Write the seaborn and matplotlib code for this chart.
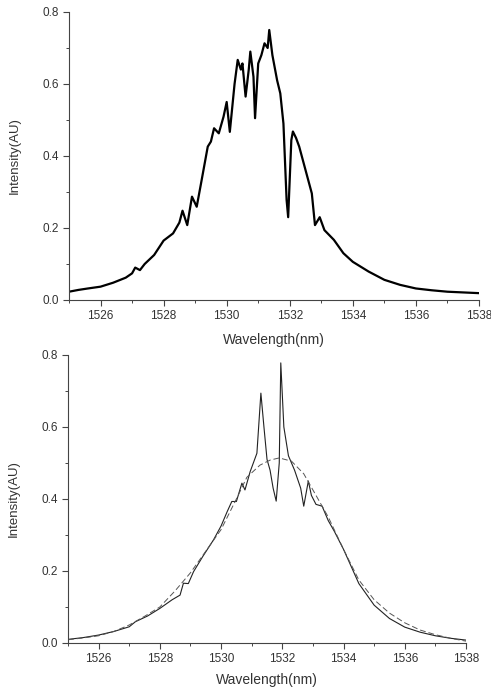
import numpy as np
import pandas as pd
import matplotlib
matplotlib.use('Agg')
import matplotlib.pyplot as plt
from matplotlib.ticker import MultipleLocator, FormatStrFormatter
import seaborn as sns

top_wl = [1525.0, 1525.3, 1525.6, 1526.0, 1526.4, 1526.8, 1527.0, 1527.1, 1527.25, 1527.4,
          1527.7, 1528.0, 1528.3, 1528.5, 1528.6, 1528.75, 1528.9, 1529.05, 1529.2, 1529.4,
          1529.5, 1529.6, 1529.75, 1529.9, 1530.0, 1530.1, 1530.25, 1530.35, 1530.45, 1530.5,
          1530.6, 1530.7, 1530.75, 1530.85, 1530.9, 1531.0, 1531.1, 1531.2, 1531.3, 1531.35,
          1531.45, 1531.6, 1531.7, 1531.8, 1531.9, 1531.95, 1532.05, 1532.1, 1532.2, 1532.3,
          1532.5, 1532.7, 1532.8, 1532.95, 1533.1, 1533.4, 1533.7, 1534.0, 1534.5, 1535.0,
          1535.5, 1536.0, 1536.5, 1537.0, 1537.5, 1538.0]
top_int = [0.023, 0.028, 0.032, 0.037, 0.048, 0.062, 0.074, 0.090, 0.083, 0.100,
           0.125, 0.165, 0.185, 0.215, 0.248, 0.208, 0.287, 0.259, 0.330, 0.426,
           0.440, 0.477, 0.463, 0.509, 0.550, 0.467, 0.600, 0.667, 0.640, 0.657,
           0.565, 0.640, 0.690, 0.620, 0.505, 0.657, 0.680, 0.713, 0.700, 0.750,
           0.680, 0.610, 0.574, 0.490, 0.278, 0.230, 0.444, 0.468, 0.450, 0.426,
           0.361, 0.296, 0.208, 0.230, 0.194, 0.167, 0.130, 0.106, 0.079, 0.056,
           0.042, 0.032, 0.027, 0.023, 0.021, 0.019]

# bottom panel: measured (solid) and fitted (dashed) spectra
bot_wl = [1525.0, 1525.5, 1526.0, 1526.5, 1527.0, 1527.2, 1527.6, 1528.0, 1528.4, 1528.66,
          1528.77, 1528.93, 1529.1, 1529.4, 1529.75, 1530.0, 1530.2, 1530.35, 1530.5, 1530.68,
          1530.78, 1530.95, 1531.17, 1531.3, 1531.4, 1531.5, 1531.6, 1531.7, 1531.8, 1531.9,
          1531.95, 1532.05, 1532.2, 1532.4, 1532.6, 1532.7, 1532.85, 1532.95, 1533.1, 1533.3,
          1533.5, 1533.7, 1534.0, 1534.5, 1535.0, 1535.5, 1536.0, 1536.5, 1537.0, 1537.5,
          1538.0]
bot_int = [0.010, 0.015, 0.022, 0.032, 0.045, 0.059, 0.075, 0.096, 0.120, 0.133,
           0.166, 0.165, 0.198, 0.240, 0.286, 0.325, 0.365, 0.393, 0.393, 0.444,
           0.425, 0.476, 0.527, 0.694, 0.600, 0.510, 0.480, 0.430, 0.394, 0.500,
           0.778, 0.600, 0.520, 0.480, 0.430, 0.380, 0.450, 0.410, 0.385, 0.380,
           0.340, 0.310, 0.260, 0.165, 0.105, 0.068, 0.044, 0.030, 0.020, 0.013,
           0.008]

fit_wl = [1525.0, 1525.5, 1526.0, 1526.5, 1527.0, 1527.5, 1528.0, 1528.5, 1529.0, 1529.5,
          1530.0, 1530.5, 1530.84, 1531.27, 1531.6, 1531.9, 1532.3, 1532.7, 1533.0, 1533.5,
          1534.0, 1534.5, 1535.0, 1535.5, 1536.0, 1536.5, 1537.0, 1537.5, 1538.0]
fit_int = [0.009, 0.014, 0.020, 0.032, 0.050, 0.074, 0.100, 0.145, 0.195, 0.255,
           0.315, 0.400, 0.460, 0.494, 0.508, 0.514, 0.505, 0.470, 0.425, 0.350,
           0.260, 0.175, 0.120, 0.083, 0.056, 0.036, 0.023, 0.013, 0.005]

top_df = pd.DataFrame({'wl': top_wl, 'val': top_int})
bot_df = pd.DataFrame({'wl': bot_wl, 'val': bot_int})
fit_df = pd.DataFrame({'wl': fit_wl, 'val': fit_int})

sns.set_style("ticks")
plt.rcParams['font.family'] = ['Liberation Sans', 'DejaVu Sans']
text_col = '#333333'

fig = plt.figure(figsize=(4.91, 6.89), dpi=100)
ax1 = fig.add_axes([0.1405, 0.5646, 0.835, 0.418])
ax2 = fig.add_axes([0.1385, 0.0668, 0.8106, 0.418])

sns.lineplot(data=top_df, x='wl', y='val', ax=ax1, color='black', lw=1.6)
sns.lineplot(data=bot_df, x='wl', y='val', ax=ax2, color='#222222', lw=0.8)
sns.lineplot(data=fit_df, x='wl', y='val', ax=ax2, color='#555555', lw=0.7,
             linestyle=(0, (6, 3)))

for ax in (ax1, ax2):
    ax.set_xlim(1525, 1538)
    ax.set_ylim(0, 0.8)
    ax.set_xticks(np.arange(1526, 1539, 2))
    ax.xaxis.set_minor_locator(MultipleLocator(1))
    ax.yaxis.set_major_locator(MultipleLocator(0.2))
    ax.yaxis.set_minor_locator(MultipleLocator(0.1))
    ax.yaxis.set_major_formatter(FormatStrFormatter('%.1f'))
    ax.tick_params(which='major', length=4, width=0.8, labelsize=8.5,
                   colors='#444444', labelcolor=text_col, pad=3)
    ax.tick_params(which='minor', length=2.5, width=0.7, colors='#444444')
    for s in ('left', 'bottom'):
        ax.spines[s].set_linewidth(0.8)
        ax.spines[s].set_color('#444444')
    sns.despine(ax=ax)
    ax.set_ylabel('Intensity(AU)', fontsize=9.5, color=text_col, labelpad=16)

ax1.set_xlabel('Wavelength(nm)', fontsize=10, color=text_col, labelpad=8)
ax2.set_xlabel('Wavelength(nm)', fontsize=10, color=text_col, labelpad=6)

fig.savefig('out.png', dpi=100)
